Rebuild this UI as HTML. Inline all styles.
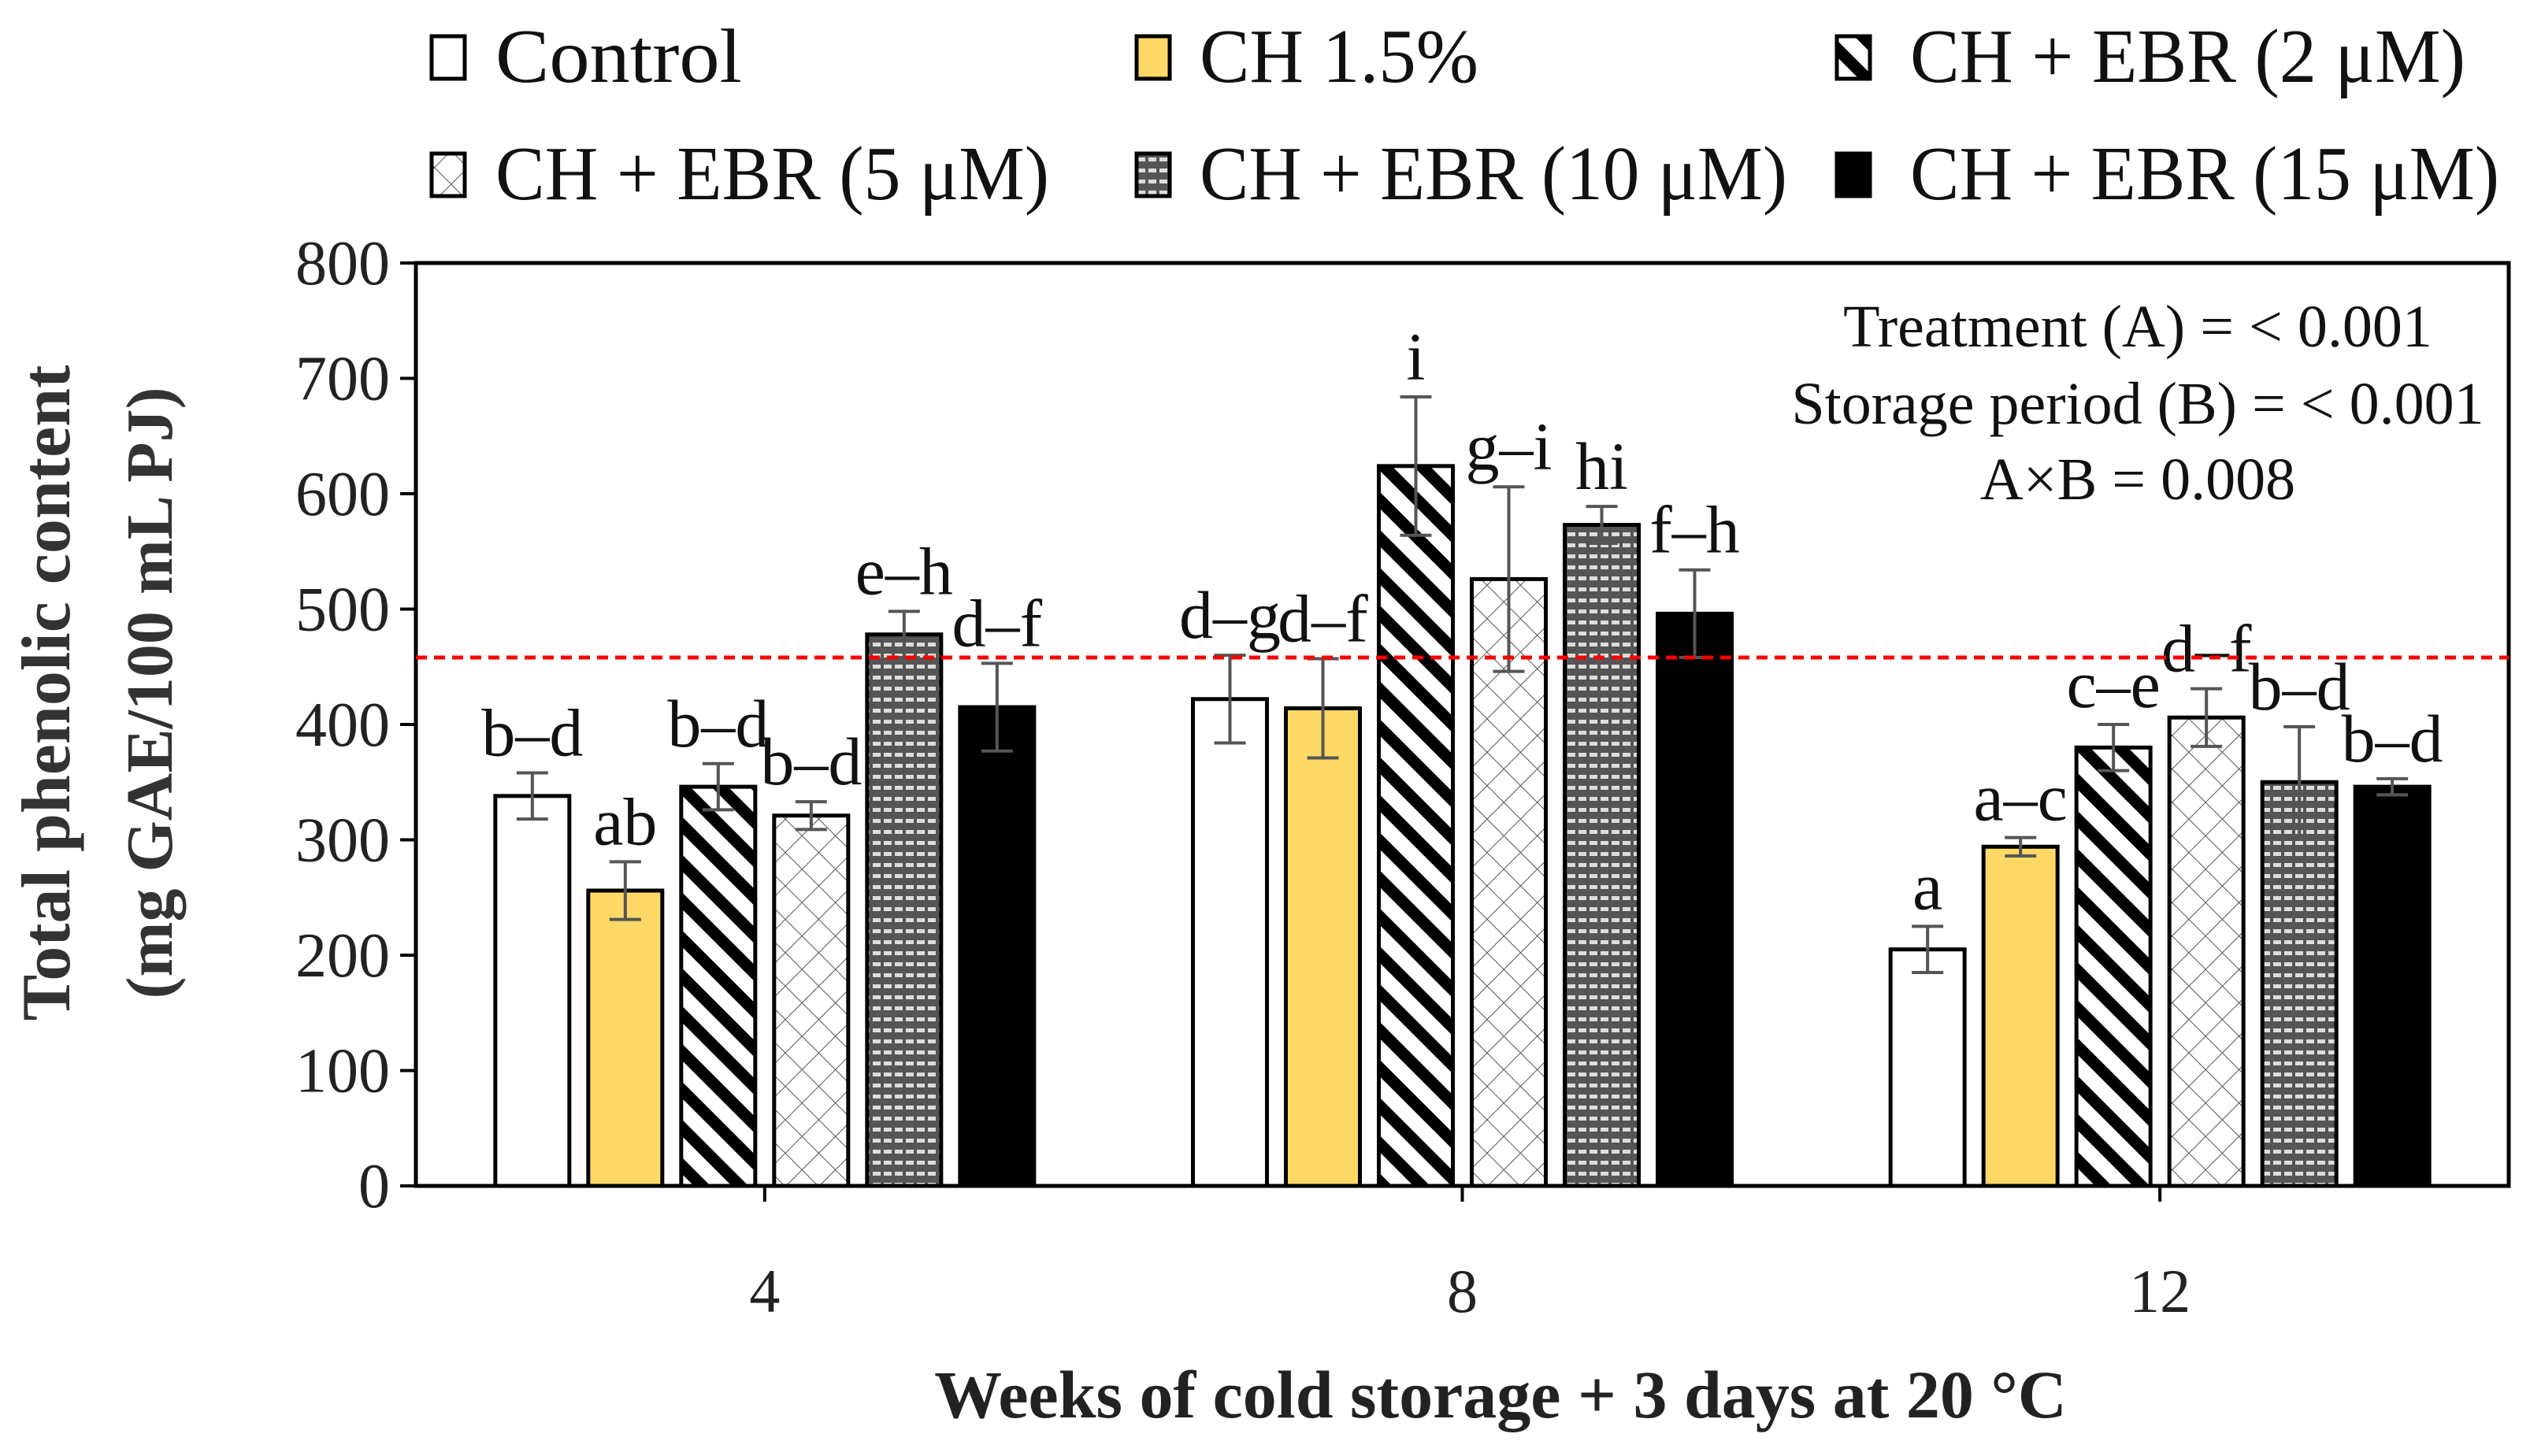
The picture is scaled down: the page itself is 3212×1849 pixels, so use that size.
<!DOCTYPE html>
<html><head><meta charset="utf-8"><style>
html,body{margin:0;padding:0;background:#fff;}
svg text{font-family:"Liberation Serif",serif;}
</style></head><body>
<svg id="chart" width="3212" height="1844" viewBox="0 0 3212 1844" xmlns="http://www.w3.org/2000/svg">
<defs>
<pattern id="p-diag" patternUnits="userSpaceOnUse" width="34" height="34" patternTransform="rotate(-45)">
<rect width="34" height="34" fill="#fff"/><rect width="15" height="34" fill="#000"/></pattern>
<pattern id="p-cross" patternUnits="userSpaceOnUse" width="30" height="30" patternTransform="rotate(45)">
<rect width="30" height="30" fill="#fff"/><line x1="0" y1="0" x2="0" y2="30" stroke="#555" stroke-width="2"/><line x1="0" y1="0" x2="30" y2="0" stroke="#555" stroke-width="2"/></pattern>
<pattern id="p-dots" patternUnits="userSpaceOnUse" width="14" height="14">
<rect width="14" height="14" fill="#555"/><rect x="2" y="4" width="10" height="5" fill="#ddd"/></pattern>
</defs>
<g id="legend"></g>
<g id="plot"></g>
</svg>
<script>
const groups = ["4","8","12"];
const seriesNames = ["Control","CH 1.5%","CH + EBR (2 μM)","CH + EBR (5 μM)","CH + EBR (10 μM)","CH + EBR (15 μM)"];
const values = [[338,256,346,321,478,415],[422,414,624,526,573,496],[205,294,380,406,350,346]];
const errors = [[20,25,20,12,20,38],[38,43,60,80,16,38],[20,8,20,25,48,7]];
const letters = [["b–d","ab","b–d","b–d","e–h","d–f"],["d–g","d–f","i","g–i","hi","f–h"],["a","a–c","c–e","d–f","b–d","b–d"]];
const yTicks = [0,100,200,300,400,500,600,700,800];
const refLine = 458;
const fills = ["#fff","#FFD966","url(#p-diag)","url(#p-cross)","url(#p-dots)","#000"];

const NS="http://www.w3.org/2000/svg";
const svg=document.getElementById('plot'), leg=document.getElementById('legend');
const L=528,R=3185,T=334,B=1506;
const y=v=>B-(v/800)*(B-T);
const gw=(R-L)/groups.length;
const gx=i=>L+(i+0.5)*gw;
const bw=94, step=118;
function mk(tag,attrs,parent,text){const e=document.createElementNS(NS,tag);for(const k in attrs)e.setAttribute(k,attrs[k]);if(text!==undefined)e.textContent=text;(parent||svg).appendChild(e);return e;}

let f=mk('rect',{x:L,y:T,width:R-L,height:B-T,fill:'none',stroke:'#000','stroke-width':5});



yTicks.forEach(t=>{
  let l=mk('line',{x1:L-20,x2:L,y1:y(t),y2:y(t),stroke:'#000','stroke-width':4});
  
  
  let tx=mk('text',{x:495,y:y(t)+27,'text-anchor':'end','font-size':80,fill:'#222'},svg,t);
  
  
});
groups.forEach((g,i)=>{
  let l=mk('line',{x1:gx(i),x2:gx(i),y1:B,y2:B+20,stroke:'#000','stroke-width':4});
  
  
  let tx=mk('text',{x:gx(i),y:1666,'text-anchor':'middle','font-size':78,fill:'#222'},svg,g);
  
  
  values[i].forEach((v,s)=>{
    const cx=gx(i)+(s-2.5)*step;
    let r=mk('rect',{x:cx-bw/2,y:y(v),width:bw,height:B-y(v),fill:fills[s],stroke:'#000','stroke-width':5});
    
    
    const e=errors[i][s];
    let eb=mk('path',{d:`M${cx},${y(v+e)}V${y(v-e)}M${cx-20},${y(v+e)}H${cx+20}M${cx-20},${y(v-e)}H${cx+20}`,stroke:'#555','stroke-width':4,fill:'none'});
    
    
    let lt=mk('text',{x:cx,y:y(v+e)-22,'text-anchor':'middle','font-size':86,fill:'#111'},svg,letters[i][s]);
    
    
  });
});
let rl=mk('line',{x1:L,x2:R,y1:y(refLine),y2:y(refLine),stroke:'#f00','stroke-width':5,'stroke-dasharray':'14,9'});



const swx=[548,1443,2332], txx=[629,1523,2425], ly=[72,221];
const tlen=[313,354,705,703,746,748];
seriesNames.forEach((n,s)=>{
  const c=s%3, yy=ly[Math.floor(s/3)];
  let r=mk('rect',{x:swx[c],y:yy-26,width:42,height:54,fill:fills[s],stroke:'#000','stroke-width':5},leg);
  
  
  let t=mk('text',{x:txx[c],y:yy+32,'font-size':98,fill:'#111',textLength:tlen[s],lengthAdjust:'spacingAndGlyphs'},leg,n);
  
  
});

["Treatment (A) = < 0.001","Storage period (B) = < 0.001","A×B = 0.008"].forEach((s,k)=>{
  let t=mk('text',{x:2714,y:[440,538,634][k],'text-anchor':'middle','font-size':76,fill:'#111'},svg,s);
  
  
});

let yt=mk('text',{transform:'translate(88,880) rotate(-90)','text-anchor':'middle','font-size':88,'font-weight':'bold',fill:'#333'},svg,'Total phenolic content');


let yt2=mk('text',{transform:'translate(218,880) rotate(-90)','text-anchor':'middle','font-size':84,'font-weight':'bold',fill:'#333'},svg,'(mg GAE/100 mL PJ)');


let xt=mk('text',{x:1905,y:1800,'text-anchor':'middle','font-size':86,'font-weight':'bold',fill:'#222'},svg,'Weeks of cold storage + 3 days at 20 °C');


</script>
</body></html>
